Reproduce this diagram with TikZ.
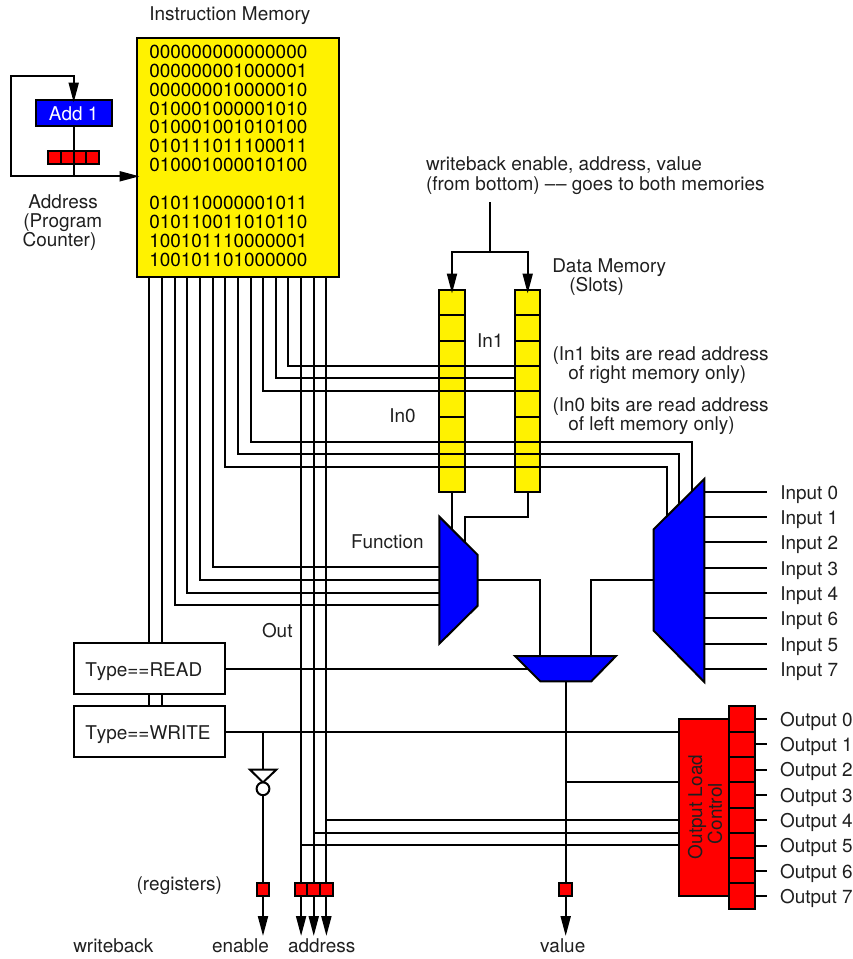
\documentclass[tikz,border=0pt]{standalone}
\usepackage{fontspec}
\setmainfont[Kerning=Off]{TeX Gyre Heros}
\usetikzlibrary{arrows.meta}
\tikzset{
  wire/.style={line width=2pt,draw=black,line cap=butt},
  arrowwire/.style={wire,-{Triangle[length=20pt,width=10pt]}},
  blockshape/.style={draw=black,line width=2pt,line join=miter},
  box/.style={rectangle,draw=black,line width=2pt,inner sep=0pt,outer sep=0pt},
  yellowcell/.style={box,fill=yellow,minimum width=25.3pt,minimum height=25.3pt},
  redcell/.style={box,fill=red,minimum width=25.7pt,minimum height=25.3pt},
  smallreg/.style={box,fill=red,minimum width=12.7pt,minimum height=13pt},
  lbl/.style={anchor=base west,inner sep=0pt,outer sep=0pt,text=black!88},
  every node/.style={font=\fontsize{18.95}{18.9}\selectfont},
}
\begin{document}
\begin{tikzpicture}[x=1pt,y=-1pt]
\useasboundingbox (0,0) rectangle (853,959);
% Instruction memory
\node[box,fill=yellow,minimum width=201.7pt,minimum height=239pt] (imem) at (237.85,157.5) {};
\node[lbl] (imemtitle) at (149.3,20) {Instruction Memory};
\foreach \n/\y/\t in {a/58.3/000000000000000,b/77.2/000000001000001,c/96.1/000000010000010,d/115/010001000001010,e/133.9/010001001010100,f/152.8/010111011100011,g/171.7/010001000010100,h/209.6/010110000001011,i/228.5/010110011010110,j/247.4/100101110000001,k/266.3/100101101000000}
  \node[lbl,text=black] (code\n) at (149.3,\y) {\t};
% Program counter
\node[box,fill=blue,minimum width=76pt,minimum height=26pt,text=white] (add) at (73.7,113.3) {Add 1};
\coordinate (loopsw) at (10.7,176.3);
\coordinate (looptop) at (10.7,76);
\coordinate (addtop) at (73.7,102.5);
\coordinate (imemin) at (139.5,176.3);
\coordinate (pcjoin) at (73.7,176.3);
\draw[wire] (add.south) -- (pcjoin);
\draw[arrowwire] (pcjoin) -- (loopsw) -- (looptop) -| (addtop);
\draw[arrowwire] (loopsw) -- (imemin);
\foreach \i/\x in {1/54.7,2/67.4,3/80.1,4/92.8}
  \node[box,fill=red,minimum width=12.7pt,minimum height=13.3pt] (pc\i) at (\x,157.6) {};
\node[lbl] (addr1) at (28.3,208.5) {Address};
\node[lbl] (addr2) at (23.3,227.5) {(Program};
\node[lbl] (addr3) at (22.6,246.5) {Counter)};
% Data memories
\foreach \i/\y in {1/302.65,2/328,3/353.3,4/378.6,5/403.9,6/429.2,7/454.5,8/479.8} {
  \node[yellowcell] (l\i) at (452,\y) {};
  \node[yellowcell] (r\i) at (527.7,\y) {};
}
\node[lbl] (wb1) at (426,170.7) {writeback enable, address, value};
\node[lbl] (wb2) at (426,190) {(from bottom) –{}\kern0.6pt– goes to both memories};
\node[lbl] (dm1) at (552.3,272.5) {Data Memory};
\node[lbl] (dm2) at (569.3,291.7) {(Slots)};
\node[lbl] (in1) at (477,347.7) {In1};
\node[lbl] (in0) at (389.3,422.7) {In0};
\node[lbl] (n1) at (552.6,360) {(In1 bits are read address};
\node[lbl] (n2) at (568.3,379) {of right memory only)};
\node[lbl] (n3) at (552.6,411) {(In0 bits are read address};
\node[lbl] (n4) at (568.3,430) {of left memory only)};
\coordinate (wbtop) at (489.7,202);
\coordinate (wbtee) at (489.7,252);
\coordinate (ltip) at (452,293.5);
\coordinate (rtip) at (527.7,293.5);
\draw[wire] (wbtop) -- (wbtee);
\draw[arrowwire] (wbtee) -| (ltip);
\draw[arrowwire] (wbtee) -| (rtip);
% Instruction bit wires
\foreach \i in {0,...,14} {
  \pgfmathsetmacro{\wx}{149.3+12.65*\i}
  \coordinate (w\i) at (\wx,277);
}
% Boxes
\node[box,fill=white,minimum width=151.3pt,minimum height=50.4pt] (read) at (149.35,668.5) {};
\node[box,fill=white,minimum width=151.3pt,minimum height=50.4pt] (write) at (149.35,731.5) {};
\node[lbl] (readlbl) at (85.3,676) {Type==READ};
\node[lbl] (writelbl) at (85.3,739) {Type==WRITE};
\foreach \i in {0,1} {
  \draw[wire] (w\i) -- (w\i |- read.north);
  \draw[wire] (w\i |- read.south) -- (w\i |- write.north);
}
% Function mux
\coordinate (fa) at (439.3,516.7);
\coordinate (fb) at (477.7,555);
\coordinate (fc) at (477.7,605.7);
\coordinate (fd) at (439.3,643.7);
\foreach \i/\y in {2/605.3,3/592.7,4/580,5/567.3} {
  \coordinate (fi\i) at (439.3,\y);
  \draw[wire] (w\i) |- (fi\i);
}
\coordinate (flin) at (452,530);
\coordinate (frin) at (464.7,543);
\coordinate (rdrop) at (527.7,517);
\draw[wire] (l8.south) -- (flin);
\draw[wire] (r8.south) -- (rdrop) -| (frin);
\draw[blockshape,fill=blue] (fa) -- (fb) -- (fc) -- (fd) -- cycle;
\node[lbl] (fnlbl) at (351,548.7) {Function};
% Input mux
\coordinate (ia) at (653.7,529.3);
\coordinate (ib) at (704.3,479);
\coordinate (ic) at (704.3,682);
\coordinate (id) at (653.7,630.7);
\coordinate (s6) at (666.7,517);
\coordinate (s7) at (679,504.5);
\coordinate (s8) at (691.7,492);
\foreach \i/\y in {6/466.7,7/454,8/441.7} {
  \coordinate (sy\i) at (400,\y);
  \draw[wire] (w\i) |- (s\i |- sy\i) -- (s\i);
}
\foreach \i/\y in {9/391,10/378.3,11/365.7} {
  \coordinate (ry\i) at (515,\y);
  \draw[wire] (w\i) |- (ry\i);
}
\draw[wire] (ry9) -- (ry9 -| r4.east);
\draw[wire] (ry11) -- (ry11 -| r3.east);
\draw[blockshape,fill=blue] (ia) -- (ib) -- (ic) -- (id) -- cycle;
\foreach \i/\y/\t in {0/491.7/0,1/517/1,2/542.3/2,3/567.6/3,4/592.9/4,5/618.2/6,6/643.5/5,7/668.8/7} {
  \coordinate (inp\i) at (704.3,\y);
  \coordinate (inpe\i) at (767,\y);
  \draw[wire] (inp\i) -- (inpe\i);
  \pgfmathsetmacro{\by}{\y+7.6}
  \node[lbl] (inl\i) at (780.3,\by) {Input \t};
}
% Selector mux
\coordinate (ma) at (515,656);
\coordinate (mb) at (616,656);
\coordinate (mc) at (591.3,681.3);
\coordinate (md) at (540.3,681.3);
\coordinate (mreadin) at (527.6,668.7);
\coordinate (fout) at (477.7,580);
\coordinate (iout) at (653.7,580);
\coordinate (mout) at (565.7,681.3);
\draw[wire] (fout) -| (md |- ma);
\draw[wire] (iout) -| (mc |- mb);
\draw[wire] (read.east |- mreadin) -- (mreadin);
\draw[blockshape,fill=blue] (ma) -- (mb) -- (mc) -- (md) -- cycle;
\node[lbl] (outlbl) at (262,637.7) {Out};
% Output load control
\node[box,fill=red,minimum width=50.3pt,minimum height=176.7pt] (load) at (704.15,807.35) {};
\foreach \i/\y in {0/719,1/744.3,2/769.6,3/794.9,4/820.2,5/845.5,6/870.8,7/896.1} {
  \node[redcell] (o\i) at (742.15,\y) {};
  \coordinate (oe\i) at (767,\y);
  \draw[wire] (o\i.east) -- (oe\i);
  \pgfmathsetmacro{\by}{\y+7.2}
  \node[lbl] (ol\i) at (780,\by) {Output \i};
}
\node[rotate=90,inner sep=0pt,text=black!88] (loadl1) at (697,807) {Output Load};
\node[rotate=90,inner sep=0pt,text=black!88] (loadl2) at (715,813.5) {Control};
% Wires to load control
\coordinate (lw) at (679,731.7);
\coordinate (lv) at (679,781.7);
\coordinate (la14) at (679,820);
\coordinate (la13) at (679,832.7);
\coordinate (la12) at (679,845.3);
\draw[wire] (write.east |- lw) -- (lw);
\coordinate (vout) at (565.7,936);
\draw[wire] (mout |- lv) -- (lv);
\foreach \i/\c in {14/la14,13/la13,12/la12}
  \draw[wire] (w\i |- \c) -- (\c);
% Inverter
\coordinate (ta) at (250,769.7);
\coordinate (tb) at (276.3,769.7);
\coordinate (tc) at (263,782.4);
\coordinate (tee) at (263,731.7);
\coordinate (intop) at (263,769.7);
\draw[wire] (tee) -- (intop);
\draw[blockshape,fill=white] (ta) -- (tb) -- (tc) -- cycle;
\node[circle,draw=black,line width=2pt,fill=white,minimum size=12.8pt,inner sep=0pt,outer sep=0pt] (bub) at (263,788.8) {};
% Registers and outputs
\node[smallreg] (renb) at (263,889.2) {};
\coordinate (oenb) at (263,936);
\draw[wire] (bub.south) -- (renb.north);
\draw[arrowwire] (renb.south) -- (oenb);
\foreach \i in {12,13,14} {
  \coordinate (oa\i) at (w\i |- oenb);
  \draw[arrowwire] (w\i) -- (oa\i);
  \node[smallreg] (ra\i) at (w\i |- renb) {};
}
\node[smallreg] (rval) at (565.7,889.2) {};
\draw[wire] (mout) -- (rval.north);
\draw[arrowwire] (rval.south) -- (vout);
\node[lbl] (reglbl) at (136.6,890) {(registers)};
\node[lbl] (o1) at (73.3,952.7) {writeback};
\node[lbl] (o2) at (212,952.7) {enable};
\node[lbl] (o3) at (288,952.7) {address};
\node[lbl] (o4) at (540,952.7) {value};
\end{tikzpicture}
\end{document}
